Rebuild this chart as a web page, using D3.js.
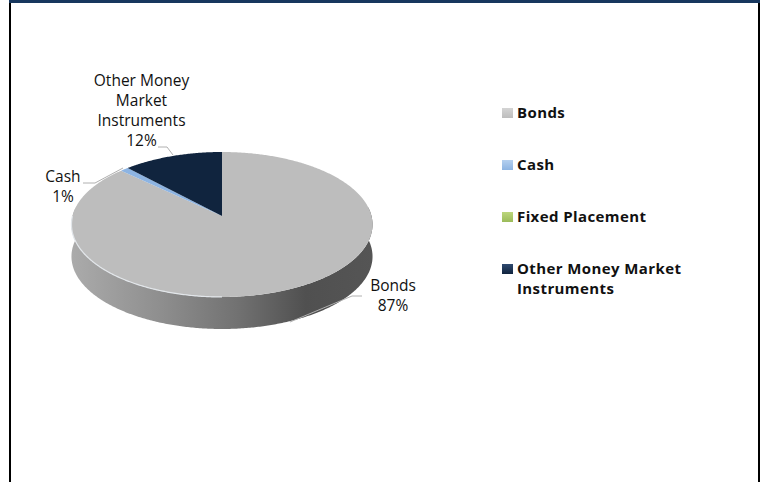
<!DOCTYPE html>
<html>
<head>
<meta charset="utf-8">
<script src="https://cdnjs.cloudflare.com/ajax/libs/d3/7.8.5/d3.min.js"></script>
<style>
  html, body { margin: 0; padding: 0; background: #fff; overflow: hidden; }
  text { font-family: "Open Sans", "Noto Sans", sans-serif; fill: #111; }
</style>
</head>
<body>
<div id="chart"></div>
<script>
var categories = ['Bonds', 'Cash', 'Fixed Placement', 'Other Money Market Instruments'];
var values = [87, 1, 0, 12];
var colors = ['#bdbdbd', '#8db4e2', '#9bbb59', '#10243e'];
var swatchLight = ['#d4d4d4', '#b5d0ef', '#bcd67c', '#2f4a70'];
var labelLines = [['Bonds', '87%'], ['Cash', '1%'], [], ['Other Money', 'Market', 'Instruments', '12%']];
var labelPos = [[393, 291], [63, 182], null, [141.5, 86]];
var leaders = [
  [[362, 296], [352, 296], [290, 322]],
  [[83, 183], [95, 183], [123, 168]],
  null,
  [[158, 147], [167, 147], [173, 155]]
];
var legendLines = [['Bonds'], ['Cash'], ['Fixed Placement'], ['Other Money Market', 'Instruments']];
var legendY = [113, 165, 217, 269];

var width = 769, height = 482;
var svg = d3.select('#chart').append('svg').attr('width', width).attr('height', height).style('display', 'block');
var defs = svg.append('defs');

// page frame
svg.append('rect').attr('x', 9).attr('y', 0).attr('width', 751).attr('height', 3).attr('fill', '#17375e');
svg.append('rect').attr('x', 9).attr('y', 3).attr('width', 2).attr('height', height).attr('fill', '#000');
svg.append('rect').attr('x', 758).attr('y', 3).attr('width', 2).attr('height', height).attr('fill', '#000');

// tilted disc: the apex sits above the middle of the ellipse
var cx = 222, cy = 216, rx = 149.5, ry = 71.5, tilt = -0.117, depth = 32;
function project(a, r) {
  var u = Math.sin(a) * (r === undefined ? 1 : r), v = -Math.cos(a) * (r === undefined ? 1 : r);
  var w = 1 + tilt * v;
  return [cx + rx * u / w, cy + ry * v / w];
}

var pie = d3.pie().sort(null).value(function (d) { return d; });
var arcs = pie(values);
var line = d3.line();

defs.append('filter').attr('id', 'soft').append('feGaussianBlur').attr('stdDeviation', 0.6);

// side wall
var wallGrad = defs.append('linearGradient').attr('id', 'wall')
  .attr('gradientUnits', 'userSpaceOnUse').attr('x1', 71).attr('x2', 372).attr('y1', 0).attr('y2', 0);
[[0, '#ababab'], [0.3, '#8e8e8e'], [0.55, '#727272'], [0.78, '#505050'], [1, '#555555']].forEach(function (s) {
  wallGrad.append('stop').attr('offset', s[0]).attr('stop-color', s[1]);
});
var rimAngles = d3.range(Math.PI * 0.46, Math.PI * 1.54, 0.01);
var rim = rimAngles.map(function (a) { return project(a); });
var wall = rim.concat(rim.slice().reverse().map(function (p) { return [p[0], p[1] + depth]; }));
svg.append('path').attr('d', line(wall) + 'Z').attr('fill', 'url(#wall)');

// top slices
svg.selectAll('path.slice').data(arcs).enter().append('path')
  .attr('class', 'slice')
  .attr('fill', function (d, i) { return colors[i]; })
  .attr('d', function (d) {
    if (d.endAngle === d.startAngle) return null;
    var pts = d3.range(d.startAngle, d.endAngle, 0.01).map(function (a) { return project(a); });
    pts.push(project(d.endAngle));
    return line([project(0, 0)].concat(pts)) + 'Z';
  });

// soft light edge along the front of the disc
var bevel = d3.range(Math.PI * 1.0, Math.PI * 1.5, 0.01).map(function (a) { return project(a); });
svg.append('path').attr('d', line(bevel)).attr('fill', 'none')
  .attr('stroke', '#e2e6ea').attr('stroke-width', 1.2).attr('filter', 'url(#soft)');

// leader lines
svg.selectAll('path.leader').data(leaders.filter(Boolean)).enter().append('path')
  .attr('class', 'leader')
  .attr('d', function (d) { return line(d); })
  .attr('fill', 'none').attr('stroke', '#b0b0b0').attr('stroke-width', 1);

// data labels
labelLines.forEach(function (lines, i) {
  if (!lines.length) return;
  var t = svg.append('text').attr('text-anchor', 'middle').style('font-size', '15.5px');
  lines.forEach(function (s, j) {
    t.append('tspan').attr('x', labelPos[i][0]).attr('y', labelPos[i][1] + j * 20).text(s);
  });
});

// legend
categories.forEach(function (c, i) {
  var id = 'sw' + i;
  var g = defs.append('linearGradient').attr('id', id).attr('x1', 0).attr('x2', 0).attr('y1', 0).attr('y2', 1);
  g.append('stop').attr('offset', 0).attr('stop-color', swatchLight[i]);
  g.append('stop').attr('offset', 1).attr('stop-color', colors[i]);
  svg.append('rect').attr('x', 502).attr('y', legendY[i] - 5).attr('width', 11).attr('height', 10)
    .attr('fill', 'url(#' + id + ')');
  var t = svg.append('text').style('font-size', '15px').style('font-weight', 700).style('letter-spacing', '0.4px');
  legendLines[i].forEach(function (s, j) {
    t.append('tspan').attr('x', 517).attr('y', legendY[i] + 5 + j * 20).text(s);
  });
});
</script>
</body>
</html>
